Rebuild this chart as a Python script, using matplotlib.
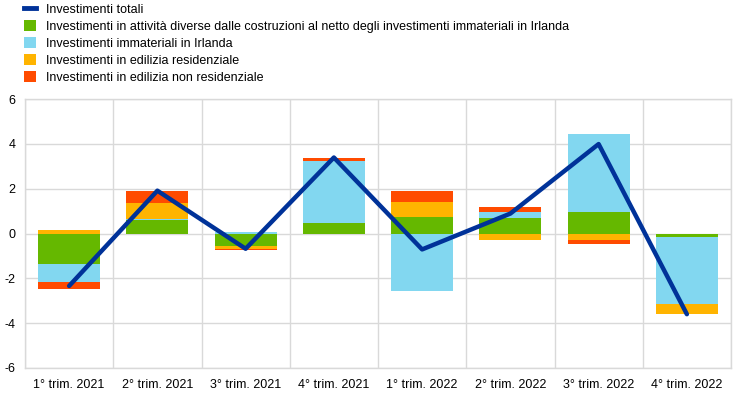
import matplotlib
matplotlib.use("Agg")
import matplotlib.pyplot as plt
import numpy as np
from matplotlib.lines import Line2D
from matplotlib.patches import Patch

plt.rcParams['font.family'] = ['Liberation Sans', 'DejaVu Sans']

categories = ["1° trim. 2021", "2° trim. 2021", "3° trim. 2021", "4° trim. 2021",
              "1° trim. 2022", "2° trim. 2022", "3° trim. 2022", "4° trim. 2022"]
totale = [-2.34, 1.91, -0.68, 3.39, -0.71, 0.89, 3.99, -3.60]
non_costruzioni = [-1.36, 0.60, -0.55, 0.48, 0.75, 0.68, 0.95, -0.14]
immateriali_irlanda = [-0.81, 0.05, 0.07, 2.76, -2.57, 0.30, 3.47, -3.01]
residenziale = [0.15, 0.73, -0.13, 0.0, 0.65, -0.27, -0.30, -0.42]
non_residenziale = [-0.32, 0.53, -0.05, 0.15, 0.48, 0.18, -0.18, 0.0]

labels = ["Investimenti totali",
          "Investimenti in attività diverse dalle costruzioni al netto degli investimenti immateriali in Irlanda",
          "Investimenti immateriali in Irlanda",
          "Investimenti in edilizia residenziale",
          "Investimenti in edilizia non residenziale"]
colors = ["#65B800", "#82D7F0", "#FFB400", "#FF4B00"]
line_color = "#003299"

fig = plt.figure(figsize=(7.44, 3.96), dpi=100)
ax = fig.add_axes([25/744, 1-368/396, (731-25)/744, (368-99)/396])

x = np.arange(len(categories))
series = [non_costruzioni, immateriali_irlanda, residenziale, non_residenziale]
pos_base = np.zeros(len(x))
neg_base = np.zeros(len(x))
for vals, c in zip(series, colors):
    v = np.array(vals)
    pos = np.where(v > 0, v, 0)
    neg = np.where(v < 0, v, 0)
    ax.bar(x, pos, bottom=pos_base, width=0.7, color=c, zorder=2)
    ax.bar(x, neg, bottom=neg_base, width=0.7, color=c, zorder=2)
    pos_base += pos
    neg_base += neg

ax.plot(x, totale, color=line_color, linewidth=3.2, zorder=3, solid_capstyle='round')

ax.set_xlim(-0.5, len(x) - 0.5)
ax.set_ylim(-6, 6)
ax.set_yticks(np.arange(-6, 7, 2))
ax.set_yticklabels([str(v) if v >= 0 else "-" + str(abs(v)) for v in range(-6, 7, 2)])
ax.set_xticks(x)
ax.set_xticklabels(categories)
ax.set_xticks(np.arange(-0.5, len(x), 1), minor=True)
ax.grid(True, axis='y', color='#D9D9D9', linewidth=1, zorder=0)
ax.grid(True, axis='x', which='minor', color='#D9D9D9', linewidth=1, zorder=0)
ax.tick_params(axis='both', which='both', length=0, labelsize=9)
ax.tick_params(axis='x', pad=8)
ax.tick_params(axis='y', pad=7)
for s in ax.spines.values():
    s.set_color('#D9D9D9')
    s.set_linewidth(1)

handles = [Line2D([0], [0], color=line_color, linewidth=3.5)] + \
          [Patch(facecolor=c, edgecolor='none') for c in colors]
fig.legend(handles, labels, loc='upper left', bbox_to_anchor=(0.022, 1.012), frameon=False,
           fontsize=9, handlelength=1.0, handleheight=1.0, handletextpad=0.8,
           labelspacing=0.33, borderaxespad=0.2)

fig.savefig("out.png", dpi=100)
